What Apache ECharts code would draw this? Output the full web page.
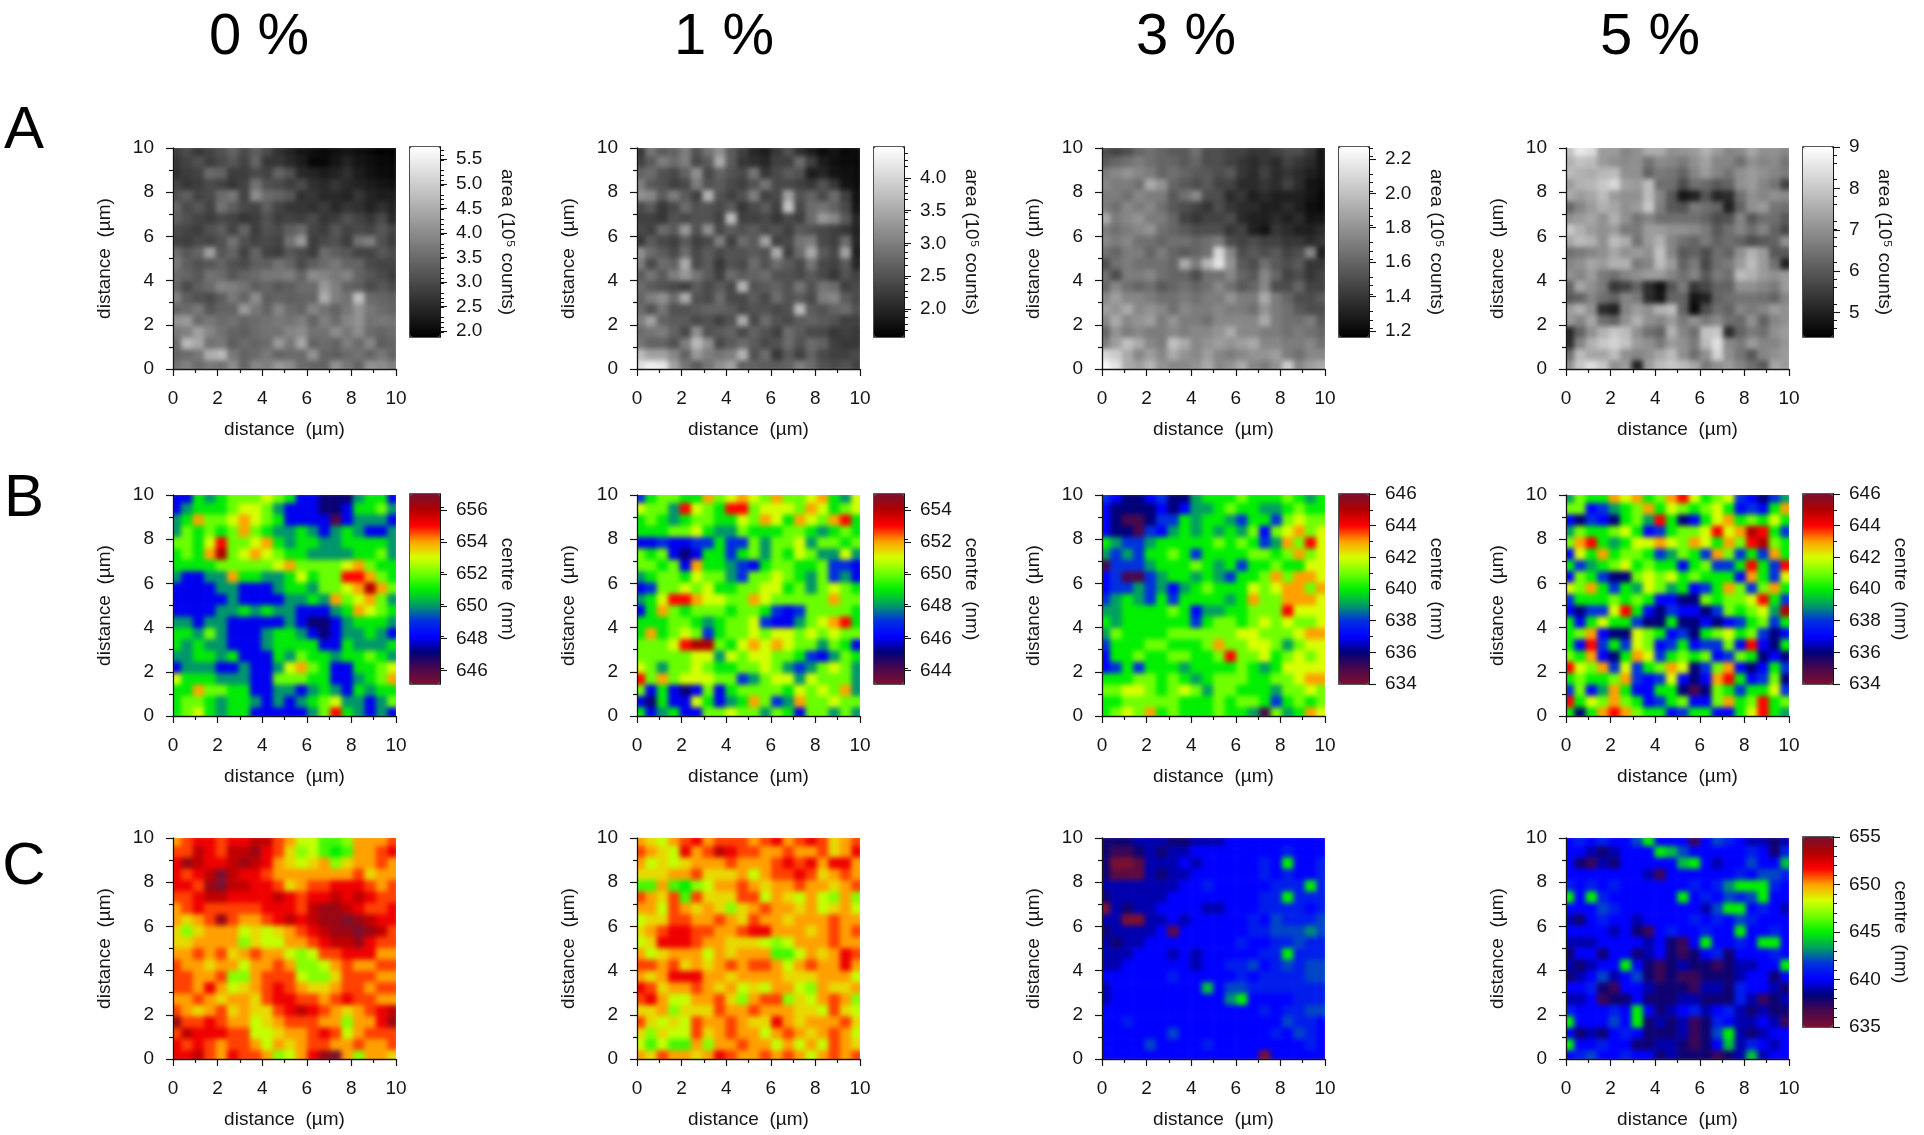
<!DOCTYPE html>
<html><head><meta charset="utf-8">
<style>html,body{margin:0;padding:0;background:#fff}#c{width:1924px;height:1135px}</style>
<script src="https://cdn.jsdelivr.net/npm/echarts@6/dist/echarts.min.js"></script>
</head><body><div id="c"></div>
<script>
// values: rows run top (10 um) to bottom (0 um). A panels in 10^3 counts, B and C panels in nm.
const A0=[[280,300,270,290,310,340,300,330,300,260,240,220,210,200,210,220,210,200,190,190],
[270,290,310,280,300,320,290,340,270,270,250,230,200,200,220,240,220,210,200,195],
[260,280,290,350,340,280,280,300,290,340,310,250,240,230,240,260,230,215,205,200],
[290,270,280,300,290,270,290,360,310,300,280,300,260,250,270,250,240,230,220,210],
[310,330,290,300,350,370,290,400,350,340,320,260,270,250,250,240,270,240,230,230],
[340,300,320,290,360,330,300,290,330,290,270,270,260,280,250,270,260,240,260,240],
[330,310,290,280,300,290,270,280,310,280,290,280,300,270,280,310,290,270,300,250],
[300,290,280,310,330,290,340,280,310,300,330,350,290,280,320,290,300,290,320,290],
[290,280,300,290,310,360,310,290,300,290,360,420,280,300,310,280,360,380,310,280],
[350,320,340,430,320,340,290,340,290,280,320,300,280,350,330,320,290,290,320,300],
[370,330,310,320,340,310,300,330,330,360,340,300,330,350,370,340,340,300,290,290],
[350,340,320,360,350,320,340,350,370,370,380,340,400,390,370,390,340,320,300,280],
[340,300,330,350,390,380,360,330,340,320,330,350,350,420,380,340,330,300,320,300],
[380,330,310,300,330,370,340,400,330,340,330,340,340,450,380,360,480,350,340,330],
[340,350,370,320,340,340,420,370,340,390,350,340,390,360,340,370,410,370,350,340],
[410,420,350,370,350,360,340,350,360,370,360,380,340,380,350,390,410,360,370,360],
[370,380,430,390,360,340,330,350,360,360,390,400,360,360,400,370,400,350,340,350],
[350,470,440,360,370,330,350,340,350,420,370,440,340,350,340,380,350,390,330,340],
[340,350,370,450,470,370,340,350,370,340,350,350,410,340,330,350,360,340,370,340],
[360,380,350,370,360,400,340,390,380,420,400,350,340,340,410,370,340,410,400,380]];
const A1=[[220,290,260,270,300,250,290,320,260,230,200,190,220,250,210,190,170,180,165,170],
[230,260,300,280,300,240,260,350,260,220,210,200,230,230,280,230,190,175,170,165],
[270,280,250,240,270,320,240,270,250,240,290,220,240,260,250,190,200,180,175,170],
[300,260,250,230,240,300,250,260,240,230,250,290,240,240,230,220,250,220,180,170],
[320,310,260,300,260,230,360,250,230,250,300,230,240,340,250,270,240,280,230,175],
[240,260,220,240,280,250,250,240,260,220,240,260,230,380,240,280,290,270,240,180],
[230,230,220,250,240,250,250,230,370,230,230,240,220,240,230,280,330,310,260,200],
[240,230,280,260,330,250,320,240,260,250,260,240,250,230,260,250,240,230,220,195],
[220,260,240,230,260,230,240,300,230,280,260,340,230,240,290,300,240,230,280,200],
[320,280,260,240,280,240,260,240,250,250,260,250,350,230,280,350,260,240,340,190],
[300,240,280,270,350,240,260,220,250,240,280,250,280,260,240,290,240,230,260,200],
[260,290,260,300,330,290,260,230,280,260,270,280,250,250,240,260,240,220,250,230],
[280,260,250,240,230,260,240,260,240,360,250,260,270,250,290,250,290,280,230,240],
[270,300,320,280,350,250,240,280,240,240,260,240,280,250,260,240,300,310,260,240],
[280,250,290,250,250,260,270,270,260,240,250,250,240,250,370,260,250,270,280,250],
[300,340,270,260,260,240,250,230,250,350,240,280,250,240,260,270,260,250,230,230],
[280,290,300,270,240,320,250,260,270,240,270,250,230,280,260,240,240,220,230,220],
[290,270,270,250,300,370,320,240,260,280,260,240,250,280,250,280,270,230,220,220],
[370,340,340,310,270,330,300,290,300,360,250,280,220,260,230,270,240,230,230,240],
[410,430,420,340,290,260,290,320,340,270,270,260,260,270,300,280,250,240,250,230]];
const A2=[[150,145,150,160,165,160,155,155,165,150,150,145,145,140,140,145,150,150,140,125],
[155,160,165,170,165,160,160,155,160,150,150,145,140,135,140,135,145,140,135,125],
[170,175,180,175,170,160,165,160,155,155,150,155,140,135,145,135,140,135,130,125],
[175,170,170,165,190,180,160,155,150,155,145,145,135,135,140,135,145,135,125,122],
[170,170,165,175,170,170,155,165,175,150,150,135,140,130,135,130,130,130,125,120],
[170,165,175,170,175,165,155,150,145,140,150,140,135,135,130,130,135,130,122,120],
[190,170,175,180,170,170,160,145,140,145,145,150,135,130,130,135,130,135,125,125],
[170,165,170,175,180,165,160,155,150,150,150,140,145,130,125,140,135,130,130,135],
[175,170,175,165,165,160,165,165,160,165,170,150,145,150,145,145,140,140,135,140],
[165,160,170,170,160,170,160,155,160,165,210,175,150,155,150,155,145,150,175,130],
[150,165,170,165,165,165,160,190,170,195,215,180,155,150,165,155,150,155,140,140],
[165,150,170,170,175,165,160,160,150,165,165,175,160,155,175,160,145,150,140,145],
[160,175,165,160,165,155,160,165,160,165,175,165,155,160,175,150,150,160,145,145],
[175,185,175,175,170,165,165,170,165,170,170,180,170,170,190,170,160,150,150,155],
[185,180,190,175,180,175,165,175,170,170,175,170,170,165,180,170,165,155,150,150],
[175,190,175,180,185,170,180,170,170,165,175,175,175,175,190,170,165,165,170,155],
[160,180,170,175,170,170,175,170,175,175,180,190,175,175,170,170,165,170,165,160],
[170,185,200,190,175,170,200,190,175,180,185,180,185,190,175,175,170,170,175,165],
[210,205,190,175,185,175,190,180,175,185,175,170,175,180,180,185,170,165,175,175],
[225,215,190,185,195,180,175,175,180,190,175,180,190,175,170,180,205,175,185,190]];
const A3=[[790,860,840,720,720,680,700,750,750,700,710,720,760,720,680,690,740,700,700,680],
[760,790,780,720,700,690,700,650,690,680,660,700,730,680,680,640,700,680,690,650],
[780,760,750,770,780,700,700,620,660,650,620,680,720,680,650,700,720,700,680,660],
[720,760,770,800,830,730,720,780,640,640,580,640,630,600,620,700,720,680,650,560],
[750,720,740,780,720,700,700,780,680,600,480,500,590,510,520,640,700,680,700,690],
[620,680,720,760,740,700,720,800,670,600,590,660,640,620,500,620,700,720,650,640],
[700,720,740,700,760,700,650,680,640,640,640,640,620,580,590,680,600,640,640,600],
[800,760,720,700,720,660,660,720,720,700,700,690,660,600,640,680,640,680,620,570],
[740,780,760,700,780,750,650,720,760,680,640,620,660,620,640,620,580,600,620,700],
[640,660,680,700,740,700,720,700,790,680,600,620,580,640,620,700,760,720,600,600],
[680,700,740,720,760,760,660,680,780,720,620,660,570,640,660,720,780,720,640,500],
[700,680,720,660,640,680,700,720,720,680,640,680,600,660,640,780,760,720,700,720],
[620,740,700,660,540,560,620,520,470,590,660,540,570,620,620,700,700,680,660,720],
[600,620,680,640,620,680,660,520,480,620,620,480,500,620,640,650,650,640,620,680],
[720,760,700,520,500,680,720,700,760,780,620,460,580,640,620,680,660,680,720,700],
[720,680,740,640,620,700,760,700,680,720,660,700,660,690,640,630,700,620,680,700],
[510,620,700,760,800,780,700,640,620,760,680,640,790,800,520,620,660,640,700,720],
[520,680,760,800,820,790,720,700,660,720,700,660,780,840,690,660,720,680,680,710],
[640,780,740,740,780,700,680,700,740,780,700,640,700,820,700,650,600,680,700,720],
[700,800,840,800,700,720,500,720,780,800,780,740,660,700,720,680,640,600,740,720]];
const B0=[[648,648,651,650,651,652,652,652,653,652,651,648,648,647,647,647,650,651,651,648],
[648,650,651,651,651,652,653,653,652,650,648,648,648,647,647,648,651,651,652,650],
[650,651,654,652,652,653,654,653,652,651,648,648,648,648,646,648,650,650,650,648],
[650,652,651,652,651,652,654,652,651,650,650,651,650,648,650,651,650,648,648,650],
[652,652,651,653,655,652,652,653,654,651,650,651,651,650,650,651,651,651,651,650],
[651,652,651,654,656,652,653,654,653,652,651,651,650,650,650,650,651,651,652,650],
[651,651,651,651,652,652,652,652,652,653,654,652,652,652,652,653,654,652,651,651],
[650,648,648,650,650,654,651,651,650,650,651,653,651,652,652,655,655,654,652,651],
[648,648,648,648,650,650,648,648,648,650,651,651,650,652,652,653,654,656,654,652],
[648,648,648,648,648,650,648,648,648,648,650,650,651,650,654,652,653,654,652,650],
[648,648,648,648,650,650,651,650,651,650,650,648,648,648,650,651,654,653,652,651],
[650,650,648,650,650,648,648,648,648,648,650,648,647,647,648,650,651,651,651,650],
[651,651,650,652,650,648,648,648,650,651,651,650,648,647,648,650,650,651,650,648],
[651,650,651,650,650,648,648,648,650,651,651,651,651,648,648,651,650,650,650,651],
[650,650,651,651,650,651,648,648,648,651,650,652,651,651,650,651,651,652,651,650],
[648,650,650,650,648,648,650,648,648,650,653,654,652,651,648,648,651,651,652,653],
[653,651,651,651,650,650,650,648,648,652,652,652,651,651,648,648,650,651,652,654],
[651,651,654,652,652,651,651,648,648,650,650,648,650,651,650,648,651,650,651,651],
[651,652,652,651,650,651,651,650,648,650,648,650,651,652,653,650,650,648,650,652],
[651,652,653,651,650,651,651,648,648,648,648,648,650,652,655,651,650,648,650,648]];
const B1=[[647,649,650,650,649,649,652,650,651,652,651,650,652,650,650,651,652,649,648,651],
[651,650,650,648,653,651,650,649,653,653,650,651,651,651,650,652,651,649,650,651],
[649,650,649,648,649,650,650,649,649,651,650,652,651,649,652,651,650,652,653,649],
[649,649,649,650,650,651,649,648,648,650,649,649,649,650,650,649,648,649,650,649],
[646,646,647,646,646,647,647,649,647,647,650,648,650,650,651,648,650,650,649,650],
[650,649,650,646,645,646,649,649,647,649,650,648,650,649,651,650,648,648,651,648],
[650,650,649,650,646,652,649,649,648,647,646,649,650,650,649,649,650,647,647,646],
[648,649,650,650,649,651,650,650,648,647,650,650,651,650,649,648,650,647,648,646],
[646,647,650,650,651,650,651,649,649,650,650,651,651,649,650,648,650,651,650,649],
[648,649,651,653,653,652,651,651,650,650,652,651,650,650,650,650,650,652,650,650],
[646,649,652,650,649,650,650,650,649,650,650,649,647,646,647,650,650,650,650,649],
[649,649,649,650,650,649,648,649,650,650,651,647,646,646,648,650,651,652,653,649],
[649,652,649,650,651,650,647,649,650,650,651,650,651,651,650,651,650,651,650,650],
[650,650,650,651,653,654,654,650,649,651,652,651,652,651,650,650,648,650,649,646],
[650,650,650,650,650,651,651,648,651,650,651,651,650,650,649,647,646,648,650,649],
[651,650,648,650,650,651,650,649,649,650,650,651,650,648,647,648,650,651,650,648],
[653,650,652,650,651,651,651,650,650,647,648,650,651,651,648,651,650,650,650,648],
[650,646,649,646,645,646,650,646,649,650,650,650,650,649,651,650,651,650,652,648],
[646,645,649,646,646,651,649,646,648,649,652,650,647,648,652,650,650,651,650,650],
[649,646,648,649,646,646,650,650,651,650,650,648,650,649,646,650,650,648,650,648]];
const B2=[[638,637,636,636,637,638,636,636,639,640,640,640,641,640,640,640,641,640,639,640],
[637,636,636,636,636,637,636,637,639,639,640,641,640,640,639,639,640,641,640,640],
[637,636,635,635,636,638,638,640,639,640,640,639,638,640,640,638,641,642,641,641],
[637,636,636,635,638,637,639,640,639,640,639,640,639,641,637,641,642,643,641,642],
[640,639,638,638,639,640,640,640,640,640,641,640,641,640,638,639,643,641,644,642],
[639,638,639,638,640,640,641,640,638,640,640,640,640,641,641,640,641,643,641,642],
[635,638,638,638,639,640,640,640,641,640,639,640,638,640,640,641,640,640,642,642],
[637,638,635,635,638,639,640,640,639,640,639,638,640,640,641,643,641,643,643,642],
[637,638,638,639,638,639,637,639,640,641,640,640,640,642,641,642,643,643,641,643],
[638,639,640,639,638,640,638,640,640,640,640,639,640,643,641,641,643,643,643,642],
[639,639,640,640,640,640,641,640,637,639,639,640,640,641,641,641,644,642,642,642],
[640,639,640,640,640,640,640,640,638,640,641,641,640,641,642,641,642,641,641,642],
[639,641,640,640,640,640,641,641,641,641,641,641,642,642,641,641,641,642,643,643],
[638,640,640,640,641,641,640,640,640,641,643,641,641,642,642,641,639,641,642,642],
[637,640,640,641,640,640,641,641,640,640,641,644,641,641,642,640,641,642,641,642],
[637,638,640,638,640,640,640,639,640,640,640,640,641,640,639,640,642,642,642,642],
[640,640,640,641,641,640,641,640,639,640,641,641,641,640,640,641,641,642,643,643],
[641,641,642,642,641,640,641,642,641,639,641,641,640,640,640,639,641,641,642,641],
[640,640,641,641,641,641,641,640,640,640,641,640,641,641,640,638,640,641,640,641],
[640,641,642,641,643,640,641,640,640,640,641,640,640,639,635,641,639,640,643,642]];
const B3=[[639,641,640,640,643,642,643,640,641,643,644,642,640,641,642,638,637,636,638,639],
[641,641,637,638,639,640,641,643,640,642,641,640,641,642,640,637,638,637,640,643],
[637,636,638,637,636,640,641,639,644,640,636,637,640,642,643,640,641,640,642,640],
[639,641,640,640,641,642,640,637,638,640,641,641,642,644,642,643,645,644,640,638],
[641,643,644,640,639,640,642,642,643,642,641,643,642,640,643,641,644,645,641,640],
[637,642,640,643,640,641,641,640,638,639,641,640,638,643,641,638,640,638,643,640],
[640,638,639,640,641,642,640,641,640,640,637,640,641,638,638,640,644,640,638,644],
[637,641,640,638,636,636,641,642,641,642,640,641,640,640,640,637,643,640,638,642],
[642,641,643,640,638,640,639,642,641,639,640,637,638,640,643,641,638,641,643,640],
[638,640,640,640,641,640,641,640,637,637,636,636,641,640,641,641,642,644,640,638],
[637,636,638,638,642,644,640,637,636,638,637,637,636,638,641,640,641,642,639,645],
[640,637,640,642,640,640,638,636,636,640,636,636,637,636,637,638,640,641,638,640],
[640,641,643,637,636,636,642,641,640,637,638,636,640,641,642,640,641,638,636,637],
[640,637,644,638,640,638,642,641,637,638,640,637,638,638,641,637,644,637,636,640],
[641,640,643,637,636,640,643,642,638,640,641,640,641,637,638,641,640,636,637,636],
[644,642,641,643,638,642,638,640,641,643,642,636,638,641,643,637,636,637,640,638],
[640,641,640,640,641,643,638,637,638,642,637,636,637,643,644,640,637,638,641,636],
[638,641,637,639,643,640,637,637,640,640,636,635,636,641,640,638,640,640,642,638],
[644,640,642,641,643,641,640,637,638,640,641,637,637,641,643,640,641,644,640,641],
[640,636,640,643,644,643,641,640,640,637,638,640,640,637,637,640,642,644,640,639]];
const C0=[[650,651,652,652,651,652,652,653,653,651,650,648,648,646,646,647,650,650,650,651],
[651,651,653,652,651,653,653,654,652,651,649,647,648,646,645,646,650,650,651,652],
[652,654,653,652,652,653,654,653,652,650,649,648,649,650,647,649,650,650,651,650],
[652,651,652,653,655,653,652,652,651,650,650,650,650,650,650,650,651,649,650,650],
[652,652,651,654,655,653,653,652,652,651,649,650,651,651,652,652,652,651,650,651],
[651,651,652,653,653,652,652,652,652,653,652,651,652,652,653,652,653,652,651,651],
[650,651,652,651,651,651,651,651,652,652,652,651,653,654,654,653,652,651,651,652],
[650,649,650,651,654,651,650,650,651,652,653,652,653,654,654,655,654,653,652,652],
[649,647,649,650,650,650,648,649,648,649,650,651,652,653,654,654,655,654,653,651],
[649,649,650,650,650,650,647,649,648,648,650,650,651,652,653,653,654,652,651,651],
[650,650,651,650,651,649,650,651,650,650,648,647,648,651,651,652,652,652,650,650],
[651,650,650,649,650,650,648,650,650,651,650,647,647,648,650,651,650,650,651,651],
[651,651,650,650,651,647,647,650,651,651,651,648,647,647,649,651,651,651,650,650],
[651,651,650,652,650,648,649,650,651,652,651,650,649,649,650,651,651,650,651,651],
[650,650,651,650,649,650,650,649,651,652,652,651,651,650,651,652,651,651,650,650],
[651,650,649,650,651,649,650,649,649,651,652,653,652,651,650,649,650,651,652,653],
[654,651,651,652,651,650,650,648,649,650,651,651,651,650,650,647,650,650,652,654],
[651,653,652,652,652,651,651,648,648,649,650,650,651,652,651,648,650,651,651,651],
[652,651,652,651,650,651,651,650,648,650,649,650,651,651,650,650,651,650,650,651],
[652,652,653,651,650,652,651,651,650,647,648,650,652,654,655,650,647,650,650,649]];
const C1=[[650,649,648,650,651,652,650,651,651,651,650,651,652,650,651,652,651,649,650,651],
[651,650,649,648,652,650,651,653,652,651,651,650,650,651,650,650,651,649,650,652],
[650,648,649,648,649,650,650,650,651,650,650,650,651,652,651,652,650,652,652,650],
[649,649,649,650,650,651,649,649,649,650,648,650,651,651,652,651,649,650,651,650],
[646,646,650,646,645,647,648,650,650,651,650,649,650,650,651,650,650,649,650,651],
[651,650,649,651,646,651,649,649,649,651,651,648,650,649,648,650,648,647,650,647],
[650,650,648,651,650,649,650,649,647,649,650,651,650,650,649,650,648,649,650,648],
[648,649,649,651,651,650,650,651,650,649,651,650,650,649,650,650,650,651,650,650],
[649,650,651,652,652,651,651,650,650,651,652,652,650,650,650,649,650,651,650,651],
[648,649,652,652,652,651,650,650,649,649,649,648,647,648,650,650,650,651,650,650],
[650,648,649,650,650,650,648,650,649,650,650,650,646,646,648,650,649,650,652,651],
[651,651,650,651,649,650,649,650,651,650,651,651,650,648,650,651,650,650,652,650],
[650,649,650,652,652,652,650,650,649,650,650,650,650,649,649,649,650,650,650,648],
[652,651,649,650,650,651,650,649,650,648,649,648,650,650,648,647,650,649,649,650],
[651,652,650,648,648,650,650,651,649,647,650,651,651,647,649,648,650,651,650,647],
[649,649,650,647,649,649,649,651,650,650,651,650,650,650,649,649,648,651,649,648],
[651,649,648,649,648,651,650,650,651,650,649,649,652,650,649,650,650,650,651,649],
[649,647,649,648,648,651,649,650,651,650,650,648,650,651,650,649,650,651,650,648],
[648,646,648,646,646,650,647,650,650,651,650,650,648,650,648,650,648,651,650,649],
[650,649,651,650,650,649,650,652,651,650,650,651,650,651,650,648,650,651,650,651]];
const C2=[[638,638,638,639,639,639,638,638,639,639,639,640,640,640,640,640,640,640,640,640],
[638,637,637,638,639,638,639,639,640,640,640,640,640,640,640,640,641,640,640,640],
[638,635,635,636,639,639,639,640,639,640,640,640,640,640,641,640,645,640,640,641],
[638,636,636,636,639,638,639,639,640,640,640,640,640,640,641,640,641,640,640,641],
[639,639,639,639,639,639,639,640,640,641,640,640,640,640,640,641,641,641,645,641],
[638,639,639,639,639,639,640,640,640,640,640,640,640,640,641,641,645,641,641,641],
[635,639,638,639,639,640,640,640,640,639,639,640,640,640,641,641,641,641,640,641],
[639,639,635,635,639,639,640,639,640,640,640,640,640,641,640,642,641,641,641,642],
[638,639,639,639,639,640,636,640,640,640,640,640,640,641,641,642,642,642,643,642],
[639,638,639,639,640,640,640,640,640,640,640,640,641,640,640,641,641,642,641,641],
[639,639,639,640,640,640,639,640,639,640,640,640,640,640,641,641,645,641,641,641],
[639,639,640,640,640,640,640,640,639,640,640,641,641,642,640,641,642,641,642,642],
[640,640,640,640,640,640,641,640,640,640,640,640,641,640,641,641,641,641,642,642],
[639,640,640,640,640,640,640,640,640,644,640,642,642,641,641,641,641,641,641,641],
[639,640,640,640,640,640,640,640,640,640,640,643,645,640,640,640,640,641,641,641],
[640,640,640,640,640,640,640,640,640,640,640,640,640,640,641,640,641,641,642,642],
[640,640,641,640,640,640,640,640,640,640,640,640,640,640,640,640,642,641,641,640],
[640,640,640,640,640,640,642,640,640,640,640,640,640,640,640,641,640,642,641,640],
[640,640,640,640,642,640,640,640,640,641,640,640,640,640,640,640,640,640,641,640],
[640,640,640,640,640,640,640,640,640,640,640,640,640,640,635,640,640,640,640,640]];
const C3=[[640,641,640,641,640,640,642,645,640,640,640,637,640,642,641,640,639,639,638,639],
[640,640,639,638,639,640,640,640,645,644,642,640,640,640,640,640,641,640,638,641],
[640,638,637,639,638,640,640,640,640,640,644,645,640,639,640,640,642,640,640,644],
[640,640,640,640,640,640,640,639,637,640,640,640,640,640,640,641,640,642,642,641],
[641,640,641,640,641,640,640,640,640,640,640,641,640,641,643,645,645,645,641,640],
[645,640,645,641,640,640,640,640,640,640,645,640,641,640,642,641,642,645,640,640],
[640,640,640,642,641,640,640,640,640,640,640,640,639,642,645,645,640,641,640,639],
[639,638,640,641,640,640,639,640,640,640,640,641,640,641,640,642,641,640,640,640],
[640,640,640,640,639,640,638,637,640,641,640,640,641,640,640,645,640,640,641,640],
[639,639,639,640,640,640,640,639,640,638,637,640,645,640,640,641,640,645,645,640],
[638,640,640,638,640,640,638,639,640,638,637,638,640,641,638,640,640,640,641,640],
[639,638,639,640,640,645,640,638,637,638,639,638,638,637,638,639,639,640,640,645],
[638,639,640,642,639,640,642,638,637,638,637,637,638,638,638,639,640,640,638,640],
[640,640,641,638,637,640,640,639,638,638,638,637,639,639,638,641,640,640,639,638],
[639,639,640,637,638,638,640,638,638,638,639,639,638,638,638,641,639,637,638,639],
[641,640,640,640,641,640,645,640,638,639,640,641,639,640,641,639,638,639,638,638],
[645,640,640,640,642,640,645,638,639,638,639,637,638,641,640,639,639,640,639,637],
[640,638,639,638,640,641,640,638,638,638,639,637,638,642,645,639,638,639,640,640],
[645,640,640,641,640,640,638,638,639,639,638,637,638,640,644,639,641,640,639,640],
[640,641,642,640,640,641,640,640,638,639,638,638,638,637,638,639,644,639,640,640]];

const columnTitles=['0 %','1 %','3 %','5 %'];
const rowLetters=['A','B','C'];
const grayRamp=['#000000','#ffffff'];
const rainbow=['#7a1030','#48084e','#00007a','#0000ff','#0030e0','#00a060','#00f000','#70ff00','#d8ff00','#ffa000','#ff0000','#b00000','#7a1030'];

const colX=[173,637,1102,1566], colCenter=[259,724,1186,1650];
const rowY=[148,495,838], rowCenter=[131,499,867];
const PW=223,PH=221,BX=237,BW=30,BH=190,BLEED=3,BLUR=2.6;
const FF='"Liberation Sans",Arial,sans-serif', FS=19, INK='#151515';

const panels=[
 {d:A0,c:0,r:0,min:187.5,max:575,ramp:grayRamp,bar:{min:1.875,max:5.75,ticks:[2,2.5,3,3.5,4,4.5,5,5.5],iv:0.5,minor:5,dec:1,name:'area (10⁵ counts)'}},
 {d:A1,c:1,r:0,min:157,max:447,ramp:grayRamp,bar:{min:1.57,max:4.47,ticks:[2,2.5,3,3.5,4],iv:0.5,minor:5,dec:1,name:'area (10⁵ counts)'}},
 {d:A2,c:2,r:0,min:116.4,max:227,ramp:grayRamp,bar:{min:1.164,max:2.27,ticks:[1.2,1.4,1.6,1.8,2,2.2],iv:0.2,minor:4,dec:1,name:'area (10⁵ counts)'}},
 {d:A3,c:3,r:0,min:441,max:900,ramp:grayRamp,bar:{min:4.41,max:9,ticks:[5,6,7,8,9],iv:1,minor:5,dec:0,name:'area (10⁵ counts)'}},
 {d:B0,c:0,r:1,min:645.15,max:657,ramp:rainbow,bar:{min:645.15,max:657,ticks:[646,648,650,652,654,656],iv:2,minor:2,dec:0,name:'centre  (nm)'}},
 {d:B1,c:1,r:1,min:643.15,max:655,ramp:rainbow,bar:{min:643.15,max:655,ticks:[644,646,648,650,652,654],iv:2,minor:2,dec:0,name:'centre  (nm)'}},
 {d:B2,c:2,r:1,min:634,max:646,ramp:rainbow,bar:{min:634,max:646,ticks:[634,636,638,640,642,644,646],iv:2,minor:2,dec:0,name:'centre  (nm)'}},
 {d:B3,c:3,r:1,min:634,max:646,ramp:rainbow,bar:{min:634,max:646,ticks:[634,636,638,640,642,644,646],iv:2,minor:2,dec:0,name:'centre  (nm)'}},
 {d:C0,c:0,r:2,min:635,max:655,ramp:rainbow},
 {d:C1,c:1,r:2,min:635,max:655,ramp:rainbow},
 {d:C2,c:2,r:2,min:635,max:655,ramp:rainbow},
 {d:C3,c:3,r:2,min:635,max:655,ramp:rainbow,bar:{min:635,max:655,ticks:[635,640,645,650,655],iv:5,minor:5,dec:0,name:'centre  (nm)'}}
];

const grid=[],xAxis=[],yAxis=[],series=[],visualMap=[];
const line={show:true,onZero:false,lineStyle:{color:INK,width:1.3}};
const label=(extra)=>Object.assign({color:INK,fontFamily:FF,fontSize:FS},extra);
const nameStyle={color:INK,fontFamily:FF,fontSize:FS};
let clip='';
panels.forEach((p,i)=>{
  const x=colX[p.c],y=rowY[p.r];
  clip+=`M${x} ${y}H${x+PW}V${y+PH}H${x}Z`;
  let g=grid.length;
  grid.push({left:x,top:y,width:PW,height:PH});
  xAxis.push({gridIndex:g,zlevel:2,type:'value',min:0,max:10,interval:2,position:'bottom',axisLine:line,
    axisTick:{show:true,length:7,lineStyle:{color:INK,width:1.2}},minorTick:{show:true,splitNumber:2,length:4,lineStyle:{color:INK,width:1.2}},
    splitLine:{show:false},axisLabel:label({margin:20,hideOverlap:false}),
    name:'distance  (µm)',nameLocation:'middle',nameGap:51,nameTextStyle:nameStyle});
  yAxis.push({gridIndex:g,zlevel:2,type:'value',min:0,max:10,interval:2,position:'left',axisLine:line,
    axisTick:{show:true,length:7,lineStyle:{color:INK,width:1.2}},minorTick:{show:true,splitNumber:2,length:4,lineStyle:{color:INK,width:1.2}},
    splitLine:{show:false},axisLabel:label({margin:19}),
    name:'distance  (µm)',nameLocation:'middle',nameGap:59,nameRotate:90,nameTextStyle:nameStyle});
  // the cells sit on their own hidden axes, a little wider than the plot so the soft edge is clipped off
  g=grid.length;
  grid.push({left:x-BLEED,top:y-BLEED,width:PW+2*BLEED,height:PH+2*BLEED});
  const idx=p.d[0].map((_,k)=>k);
  const ax=xAxis.length,ay=yAxis.length;
  xAxis.push({gridIndex:g,type:'category',data:idx,show:false});
  yAxis.push({gridIndex:g,type:'category',data:idx,show:false,inverse:true});
  const data=[];
  p.d.forEach((row,ry)=>row.forEach((v,cx)=>data.push([cx,ry,v])));
  series.push({type:'heatmap',zlevel:1,xAxisIndex:ax,yAxisIndex:ay,data,silent:true,progressive:0,emphasis:{disabled:true},itemStyle:{borderWidth:0}});
  visualMap.push({type:'continuous',seriesIndex:i,min:p.min,max:p.max,inRange:{color:p.ramp},calculable:false,show:!!p.bar,
    dimension:2,padding:0,text:null,showLabel:false,itemWidth:BW,itemHeight:BH,left:x+BX,top:y-1});
  if(p.bar){
    const b=p.bar,gb=grid.length;
    grid.push({left:x+BX,top:y-1,width:BW,height:BH,show:true,borderColor:'#222',borderWidth:1.6,backgroundColor:'transparent'});
    xAxis.push({gridIndex:gb,type:'value',min:0,max:1,show:false});
    yAxis.push({gridIndex:gb,zlevel:2,type:'value',min:b.min,max:b.max,interval:b.iv,position:'right',
      axisLine:{show:true,onZero:false,lineStyle:{color:INK,width:1}},
      axisTick:{show:true,length:7,customValues:b.ticks,lineStyle:{color:INK,width:1.1}},
      minorTick:{show:true,splitNumber:b.minor,length:4,lineStyle:{color:INK,width:1}},
      splitLine:{show:false},
      axisLabel:label({margin:16,customValues:b.ticks,formatter:v=>(+v).toFixed(b.dec)}),
      name:b.name,nameLocation:'middle',nameGap:p.r===0?(b.dec?58:42):58,nameRotate:-90,nameTextStyle:nameStyle});
  }
});
const graphic=[];
columnTitles.forEach((t,i)=>graphic.push({type:'text',x:colCenter[i],y:38,style:{text:t,font:'58px '+FF,fill:'#000',textAlign:'center',textVerticalAlign:'middle'}}));
rowLetters.forEach((t,i)=>graphic.push({type:'text',x:24,y:rowCenter[i],style:{text:t,font:'60px '+FF,fill:'#000',textAlign:'center',textVerticalAlign:'middle'}}));

const chart=echarts.init(document.getElementById('c'),null,{renderer:'canvas'});
chart.setOption({animation:false,backgroundColor:'#fff',grid,xAxis,yAxis,series,visualMap,graphic});
// soften the heatmap layer only, as the reference image is smoothed, then cut it back to the plot squares
const softLayer=document.querySelector('#c canvas[data-zr-dom-id="zr_1"]');
if(softLayer){softLayer.style.filter=`blur(${BLUR}px)`;softLayer.style.clipPath=`path('${clip}')`;}
</script></body></html>
